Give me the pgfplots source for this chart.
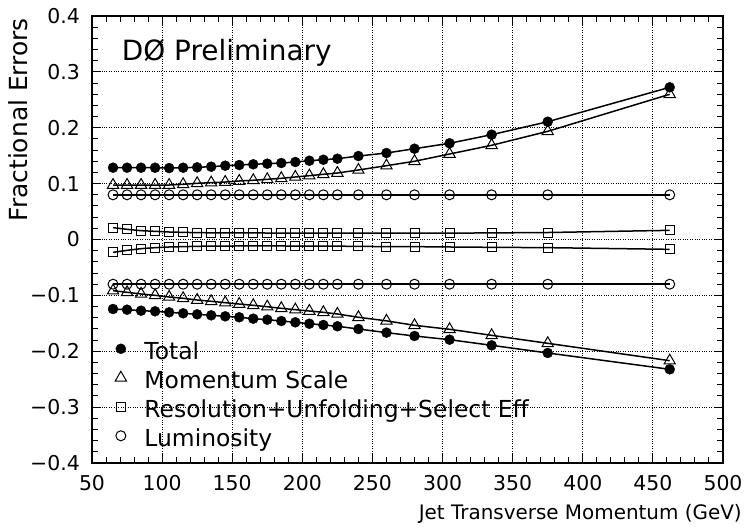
\documentclass[border=0pt]{standalone}
\usepackage{fontspec}
\setmainfont{DejaVu Sans}
\usepackage{pgfplots}
\usepackage{pgfplotstable}
\pgfplotsset{compat=1.18}
\pgfplotstableread{
x    tu      tl       mu      ml       ru      rl       lu    ll
65   0.1285  -0.1244  0.0975  -0.0916  0.0212  -0.0230  0.08  -0.08
75   0.1285  -0.1256  0.0975  -0.0945  0.0182  -0.0194  0.08  -0.08
85   0.1285  -0.1274  0.0975  -0.0975  0.0158  -0.0164  0.08  -0.08
95   0.1285  -0.1285  0.0975  -0.0999  0.0146  -0.0146  0.08  -0.08
105  0.1278  -0.1303  0.0975  -0.1029  0.0134  -0.0134  0.08  -0.08
115  0.1285  -0.1321  0.0988  -0.1052  0.0128  -0.0128  0.08  -0.08
125  0.1292  -0.1339  0.1006  -0.1083  0.0122  -0.0122  0.08  -0.08
135  0.1303  -0.1357  0.1017  -0.1106  0.0120  -0.0118  0.08  -0.08
145  0.1321  -0.1375  0.1029  -0.1131  0.0120  -0.0117  0.08  -0.08
155  0.1333  -0.1392  0.1047  -0.1155  0.0118  -0.0116  0.08  -0.08
165  0.1346  -0.1417  0.1060  -0.1178  0.0118  -0.0116  0.08  -0.08
175  0.1357  -0.1435  0.1077  -0.1203  0.0116  -0.0116  0.08  -0.08
185  0.1369  -0.1459  0.1095  -0.1232  0.0116  -0.0116  0.08  -0.08
195  0.1387  -0.1482  0.1119  -0.1256  0.0115  -0.0117  0.08  -0.08
205  0.1410  -0.1507  0.1142  -0.1280  0.0115  -0.0118  0.08  -0.08
215  0.1428  -0.1530  0.1167  -0.1303  0.0114  -0.0119  0.08  -0.08
225  0.1446  -0.1553  0.1190  -0.1333  0.0114  -0.0120  0.08  -0.08
240  0.1494  -0.1602  0.1244  -0.1392  0.0113  -0.0122  0.08  -0.08
260  0.1548  -0.1667  0.1321  -0.1456  0.0112  -0.0128  0.08  -0.08
280  0.1625  -0.1727  0.1400  -0.1536  0.0112  -0.0128  0.08  -0.08
305  0.1722  -0.1793  0.1530  -0.1607  0.0114  -0.0134  0.08  -0.08
335  0.1876  -0.1894  0.1686  -0.1715  0.0118  -0.0140  0.08  -0.08
375  0.2108  -0.2031  0.1936  -0.1858  0.0125  -0.0146  0.08  -0.08
462  0.2724  -0.2323  0.2599  -0.2169  0.0164  -0.0176  0.08  -0.08
}\errtable
\begin{document}
\begin{tikzpicture}
\begin{axis}[
  at={(0,0)}, anchor=south west,
  scale only axis, width=631bp, height=447bp,
  xmin=50, xmax=500, ymin=-0.4, ymax=0.4,
  xtick={50,100,150,200,250,300,350,400,450,500},
  xticklabels={50,100,150,200,250,300,350,400,450,500},
  ytick={-0.4,-0.3,-0.2,-0.1,0,0.1,0.2,0.3,0.4},
  yticklabels={−0.4,−0.3,−0.2,−0.1,0,0.1,0.2,0.3,0.4},
  minor x tick num=4, minor y tick num=4,
  tick align=inside,
  major tick length=9bp, minor tick length=6bp,
  tick style={black, line width=1bp},
  axis line style={line width=2bp},
  grid=major,
  major grid style={black, dotted, line width=0.8bp},
  xticklabel style={font=\fontsize{20.5}{20.5}\selectfont, anchor=base, inner sep=0pt, yshift=-27bp},
  yticklabel style={font=\fontsize{20.5}{20.5}\selectfont, anchor=east, inner sep=0pt, xshift=-12bp},
  xlabel={Jet Transverse Momentum (GeV)},
  xlabel style={at={(axis description cs:1.03,-0.1253)}, anchor=base east, inner sep=0pt, font=\fontsize{20}{20}\selectfont},
  ylabel={Fractional Errors},
  ylabel style={at={(axis description cs:-0.103,0.9955)}, anchor=base east, inner sep=0pt, font=\fontsize{25}{25}\selectfont},
  legend style={at={(axis description cs:0.0365,0.275)}, anchor=north west, draw=none, fill=none, inner sep=0pt, row sep=0pt, column sep=18bp, font=\fontsize{23.5}{23.5}\selectfont, nodes={inner sep=0pt, text height=19bp, text depth=10bp}},
  legend cell align=left,
  legend image code/.code={\draw[#1] plot[only marks] coordinates {(0bp,6bp)};},
]
% lines
\addplot[black, line width=1.5bp, no marks, forget plot] table[x=x,y=tu]{\errtable};
\addplot[black, line width=1.5bp, no marks, forget plot] table[x=x,y=tl]{\errtable};
\addplot[black, line width=1.5bp, no marks, forget plot] table[x=x,y=mu]{\errtable};
\addplot[black, line width=1.5bp, no marks, forget plot] table[x=x,y=ml]{\errtable};
\addplot[black, line width=1.5bp, no marks, forget plot] table[x=x,y=ru]{\errtable};
\addplot[black, line width=1.5bp, no marks, forget plot] table[x=x,y=rl]{\errtable};
\addplot[black, line width=1.5bp, no marks, forget plot] table[x=x,y=lu]{\errtable};
\addplot[black, line width=1.5bp, no marks, forget plot] table[x=x,y=ll]{\errtable};
% markers
\addplot[only marks, mark=*, mark size=5bp, black, fill=black] table[x=x,y=tu]{\errtable};
\addlegendentry{Total}
\addplot[only marks, mark=triangle, mark size=6.5bp, black, line width=1bp] table[x=x,y=mu]{\errtable};
\addlegendentry{Momentum Scale}
\addplot[only marks, mark=square, mark size=4.5bp, black, line width=1bp] table[x=x,y=ru]{\errtable};
\addlegendentry{Resolution+Unfolding+Select Eff}
\addplot[only marks, mark=o, mark size=5bp, black, line width=1bp] table[x=x,y=lu]{\errtable};
\addlegendentry{Luminosity}
\addplot[only marks, mark=*, mark size=5bp, black, fill=black, forget plot] table[x=x,y=tl]{\errtable};
\addplot[only marks, mark=triangle, mark size=6.5bp, black, line width=1bp, forget plot] table[x=x,y=ml]{\errtable};
\addplot[only marks, mark=square, mark size=4.5bp, black, line width=1bp, forget plot] table[x=x,y=rl]{\errtable};
\addplot[only marks, mark=o, mark size=5bp, black, line width=1bp, forget plot] table[x=x,y=ll]{\errtable};
\node[anchor=base west, inner sep=0pt, font=\fontsize{28}{28}\selectfont] at (axis description cs:0.047,0.900) {DØ Preliminary};
\end{axis}
\pgfresetboundingbox
\useasboundingbox (-92bp,-68bp) rectangle (654bp,463bp);
\end{tikzpicture}
\end{document}
